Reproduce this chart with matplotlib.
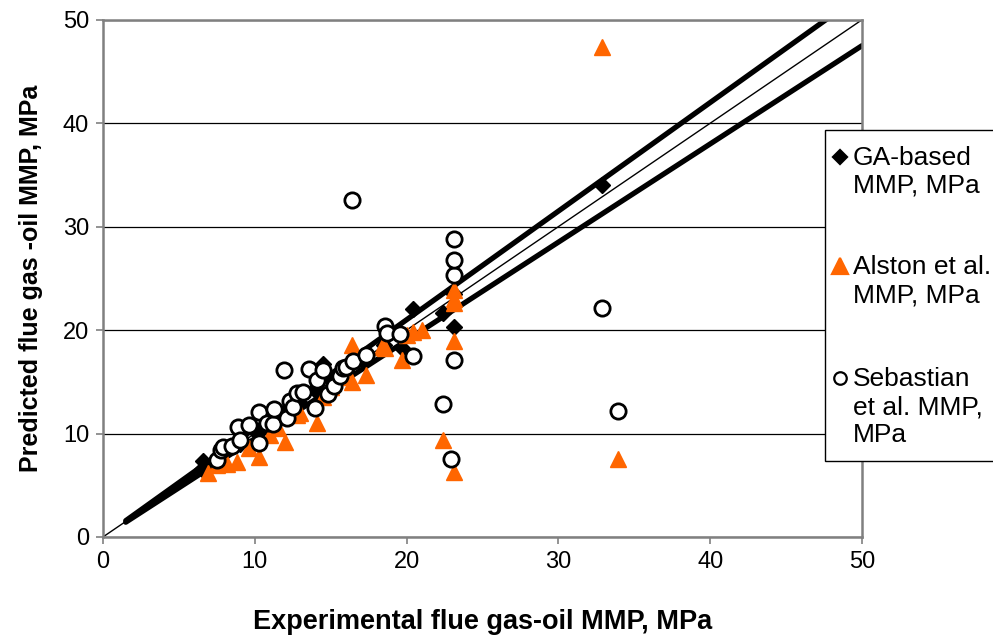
# Predicted vs experimental flue gas-oil MMP cross plot

import numpy as np
import matplotlib.pyplot as plt
from matplotlib.lines import Line2D
from matplotlib.patches import Rectangle

plt.rcParams['font.family'] = ['Liberation Sans', 'DejaVu Sans']

# GA-based MMP (experimental, predicted)
ga_exp = [6.5, 6.6, 7.5, 8.0, 9.0, 10.0, 10.5, 11.0, 12.0, 12.5, 13.0, 14.0, 14.5,
          15.0, 16.0, 17.0, 18.5, 19.7, 20.4, 22.4, 23.1, 23.1, 32.9]
ga_pred = [6.6, 7.3, 7.6, 8.1, 9.0, 10.2, 10.4, 11.2, 12.1, 12.7, 13.0, 14.2, 16.7,
           15.2, 16.0, 17.2, 18.6, 18.3, 22.0, 21.7, 20.3, 23.5, 34.0]

# Alston et al. MMP
al_exp = [6.9, 7.5, 8.2, 8.8, 9.6, 10.3, 11.0, 11.5, 12.0, 12.8, 13.0, 14.1, 14.5, 15.0,
          16.0, 16.4, 16.4, 17.3, 18.4, 18.6, 19.7, 20.0, 20.4, 21.0, 22.4, 23.1, 23.1,
          23.1, 23.1, 23.1, 32.9, 33.9]
al_pred = [6.2, 7.0, 7.1, 7.2, 8.6, 7.7, 9.9, 10.5, 9.2, 11.8, 12.0, 11.0, 13.5, 14.5,
           15.5, 15.0, 18.6, 15.7, 18.4, 18.3, 17.1, 19.5, 19.8, 20.0, 9.4, 6.3, 18.9,
           22.6, 23.0, 23.9, 47.4, 7.5]

# Sebastian et al. MMP
se_exp = [7.5, 7.8, 7.9, 8.5, 8.9, 9.0, 9.6, 10.3, 10.3, 10.8, 11.2, 11.3, 11.9, 12.1,
          12.3, 12.5, 12.8, 13.2, 13.6, 14.0, 14.1, 14.5, 14.8, 15.2, 15.6, 15.8, 16.0,
          16.4, 16.5, 17.3, 18.6, 18.7, 19.6, 20.4, 22.4, 22.9, 23.1, 23.1, 23.1, 23.1,
          32.9, 33.9]
se_pred = [7.4, 8.4, 8.7, 8.8, 10.6, 9.4, 10.8, 12.1, 9.1, 11.0, 10.9, 12.4, 16.1, 11.5,
           13.1, 12.6, 13.9, 14.0, 16.2, 12.5, 15.2, 16.1, 13.8, 14.6, 15.6, 16.3, 16.4,
           32.6, 17.0, 17.6, 20.4, 19.7, 19.6, 17.5, 12.9, 7.5, 17.1, 25.3, 26.8, 28.8,
           22.1, 12.2]

# reference lines: unity and +/-5 %
line_x = [1.5, 50]
band = [1.05, 0.95]

ORANGE = '#FF6600'

fig = plt.figure(figsize=(9.93, 6.4), dpi=100)
ax = fig.add_axes([0.1037, 0.161, 0.7643, 0.808])

ax.plot([0, 50], [0, 50], color='black', lw=1.0, zorder=2)
for k in band:
    ax.plot(line_x, [k * v for v in line_x], color='black', lw=3.8,
            solid_capstyle='round', zorder=2)

ax.plot(ga_exp, ga_pred, 'D', color='black', ms=8, zorder=3)
ax.plot(al_exp, al_pred, '^', color=ORANGE, ms=12, mec=ORANGE, zorder=3)
ax.plot(se_exp, se_pred, 'o', mfc='white', mec='black', mew=2.0, ms=11, zorder=4)

ax.set_xlim(0, 50)
ax.set_ylim(0, 50)
ax.set_xticks(np.arange(0, 51, 10))
ax.set_yticks(np.arange(0, 51, 10))
ax.yaxis.grid(True, color='black', lw=0.9)
ax.set_axisbelow(True)
for s in ax.spines.values():
    s.set_color('#808080')
    s.set_linewidth(1.8)
ax.tick_params(labelsize=17, length=5, width=1.2, color='#808080', pad=5)

ax.set_xlabel('Experimental flue gas-oil MMP, MPa', fontsize=19.5,
              fontweight='bold', labelpad=26)
ax.set_ylabel('Predicted flue gas -oil MMP, MPa', fontsize=18,
              fontweight='bold', labelpad=14)

# legend box drawn the way the spreadsheet did it (marker on first text line)
W, H = 993.0, 640.0
fig.patches.append(Rectangle((825 / W, 1 - 461 / H), 200 / W, 331 / H,
                             transform=fig.transFigure, fill=True, fc='white',
                             ec='black', lw=1.0, zorder=5))
entries = [
    (157, 'D', 'black', 'black', 7, ['GA-based', 'MMP, MPa']),
    (266, '^', ORANGE, ORANGE, 11, ['Alston et al.', 'MMP, MPa']),
    (378, 'o', 'white', 'black', 9, ['Sebastian', 'et al. MMP,', 'MPa']),
]
for py, mk, fc, ec, ms, lines in entries:
    fig.add_artist(Line2D([840 / W], [1 - py / H], marker=mk, ms=ms, mfc=fc,
                          mec=ec, mew=1.6, ls='none', transform=fig.transFigure,
                          zorder=6))
    for i, txt in enumerate(lines):
        fig.text(853 / W, 1 - (py + 8 + 28 * i) / H, txt, fontsize=19,
                 va='baseline', ha='left', zorder=6)

fig.savefig('out.png', dpi=100)
